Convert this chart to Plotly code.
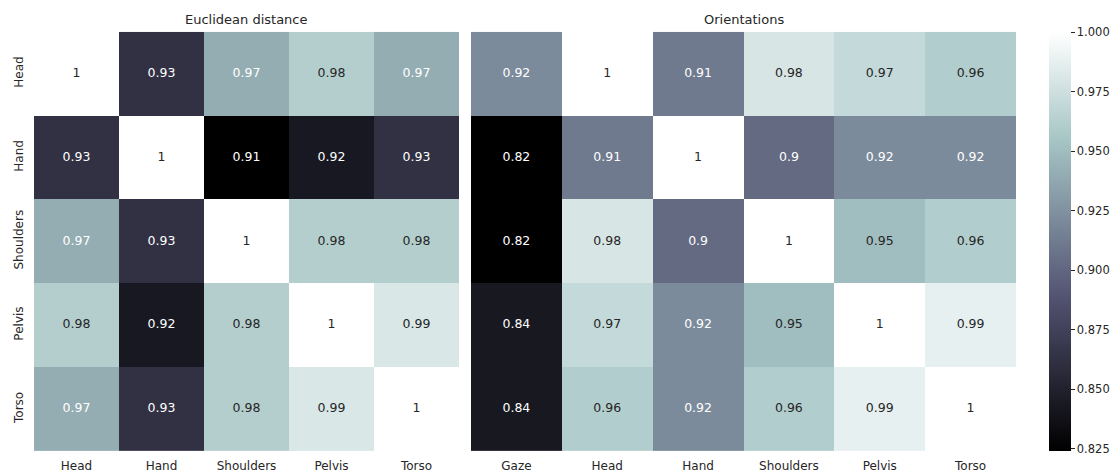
import plotly.graph_objects as go

# Body parts compared in the two matrices
body_parts = ["Head", "Hand", "Shoulders", "Pelvis", "Torso"]
orient_cols = ["Gaze", "Head", "Hand", "Shoulders", "Pelvis", "Torso"]

# Correlation of Euclidean distances between body parts
euclid_head = [1.000, 0.928, 0.969, 0.980, 0.969]
euclid_hand = [0.928, 1.000, 0.908, 0.918, 0.928]
euclid_shoulders = [0.969, 0.928, 1.000, 0.980, 0.980]
euclid_pelvis = [0.980, 0.918, 0.980, 1.000, 0.990]
euclid_torso = [0.969, 0.928, 0.980, 0.990, 1.000]

# Correlation of orientations (gaze + body parts)
orient_head = [0.921, 1.000, 0.9115, 0.980, 0.970, 0.961]
orient_hand = [0.824, 0.9115, 1.000, 0.902, 0.921, 0.921]
orient_shoulders = [0.824, 0.980, 0.902, 1.000, 0.950, 0.961]
orient_pelvis = [0.843, 0.970, 0.921, 0.950, 1.000, 0.988]
orient_torso = [0.843, 0.961, 0.921, 0.961, 0.988, 1.000]

colorbar_ticks = [0.825, 0.850, 0.875, 0.900, 0.925, 0.950, 0.975, 1.000]

euclid = [euclid_head, euclid_hand, euclid_shoulders, euclid_pelvis, euclid_torso]
orient = [orient_head, orient_hand, orient_shoulders, orient_pelvis, orient_torso]

# matplotlib "bone" colormap, piecewise-linear anchors
BONE = [
    (0.0, (0.0, 0.0, 0.0)),
    (0.365079, (0.319444, 0.319444, 0.444444)),
    (0.746032, (0.652778, 0.777778, 0.777778)),
    (1.0, (1.0, 1.0, 1.0)),
]
bone_scale = [[p, "rgb({:.1f},{:.1f},{:.1f})".format(*(c * 255 for c in rgb))] for p, rgb in BONE]

TEXT_DARK = "#262626"


def bone_rgb(t):
    t = min(max(t, 0.0), 1.0)
    for (p0, c0), (p1, c1) in zip(BONE[:-1], BONE[1:]):
        if t <= p1:
            f = (t - p0) / (p1 - p0)
            return [a + (b - a) * f for a, b in zip(c0, c1)]
    return list(BONE[-1][1])


def luminance(rgb):
    lin = [c / 12.92 if c <= 0.03928 else ((c + 0.055) / 1.055) ** 2.4 for c in rgb]
    return 0.2126 * lin[0] + 0.7152 * lin[1] + 0.0722 * lin[2]


def text_layer(matrix, cols, xa, ya):
    flat = [v for row in matrix for v in row]
    lo, hi = min(flat), max(flat)
    xs, ys, txt, colors = [], [], [], []
    for r, row in enumerate(matrix):
        for c, v in enumerate(row):
            xs.append(cols[c])
            ys.append(body_parts[r])
            txt.append(f"{v:.2g}")
            lum = luminance(bone_rgb((v - lo) / (hi - lo)))
            colors.append(TEXT_DARK if lum > 0.408 else "white")
    return go.Scatter(
        x=xs, y=ys, text=txt, mode="text", xaxis=xa, yaxis=ya,
        textfont=dict(size=12.5, color=colors, family="DejaVu Sans"),
        hoverinfo="skip", showlegend=False,
    )


fig = go.Figure()
fig.add_trace(go.Heatmap(
    z=euclid, x=body_parts, y=body_parts, colorscale=bone_scale,
    showscale=False, xaxis="x", yaxis="y", xgap=0, ygap=0,
))
fig.add_trace(go.Heatmap(
    z=orient, x=orient_cols, y=body_parts, colorscale=bone_scale,
    xaxis="x2", yaxis="y2",
    colorbar=dict(
        x=1049 / 1118, xanchor="left", y=20 / 473, yanchor="bottom",
        len=421 / 473, lenmode="fraction", thickness=22, outlinewidth=0,
        xpad=0, ypad=0, tickvals=colorbar_ticks, tickformat=".3f",
        ticks="outside", ticklen=4, tickwidth=1, tickcolor=TEXT_DARK,
        tickfont=dict(size=11.5, color=TEXT_DARK, family="DejaVu Sans"),
    ),
))
fig.add_trace(text_layer(euclid, body_parts, "x", "y"))
fig.add_trace(text_layer(orient, orient_cols, "x2", "y2"))

y_dom = [20 / 473, 441 / 473]
axis_common = dict(showgrid=False, zeroline=False, showline=False, ticks="",
                   tickfont=dict(size=12, color=TEXT_DARK, family="DejaVu Sans"))

fig.update_layout(
    width=1118, height=473,
    margin=dict(l=0, r=0, t=0, b=0),
    paper_bgcolor="white", plot_bgcolor="white",
    font=dict(family="DejaVu Sans", color=TEXT_DARK),
    showlegend=False,
    xaxis=dict(domain=[34 / 1118, 459 / 1118], anchor="y", range=[-0.5, 4.5],
               ticklabelstandoff=6, **axis_common),
    yaxis=dict(domain=y_dom, anchor="x", range=[4.5, -0.5], tickangle=-90,
               ticklabelstandoff=8, **axis_common),
    xaxis2=dict(domain=[471 / 1118, 1016 / 1118], anchor="y2", range=[-0.5, 5.5],
                ticklabelstandoff=6, **axis_common),
    yaxis2=dict(domain=y_dom, anchor="x2", range=[4.5, -0.5], showticklabels=False,
                **axis_common),
    annotations=[
        dict(text="Euclidean distance", x=(34 + 459) / 2 / 1118, y=(473 - 20) / 473,
             xref="paper", yref="paper", showarrow=False, xanchor="center", yanchor="middle",
             font=dict(size=13, color=TEXT_DARK)),
        dict(text="Orientations", x=(471 + 1016) / 2 / 1118, y=(473 - 20) / 473,
             xref="paper", yref="paper", showarrow=False, xanchor="center", yanchor="middle",
             font=dict(size=13, color=TEXT_DARK)),
    ],
)

fig.write_html("out.html")
